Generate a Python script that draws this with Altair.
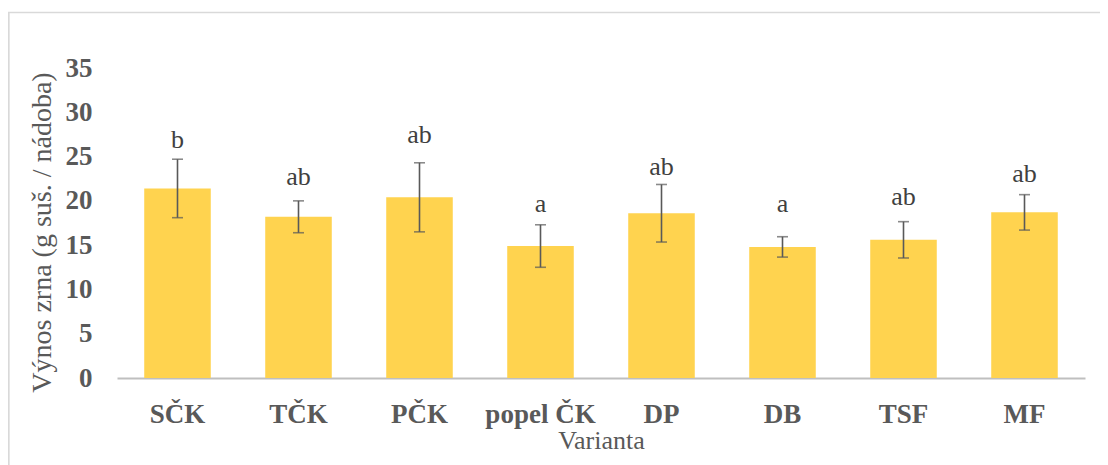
import altair as alt
import pandas as pd

categories = ["SČK", "TČK", "PČK", "popel ČK", "DP", "DB", "TSF", "MF"]
means = [21.4, 18.2, 20.4, 14.9, 18.6, 14.8, 15.6, 18.7]
errors = [3.3, 1.8, 3.9, 2.4, 3.25, 1.15, 2.05, 2.0]
letters = ["b", "ab", "ab", "a", "ab", "a", "ab", "ab"]
letter_pos = [26.0, 21.8, 26.5, 18.75, 22.9, 18.75, 19.5, 22.1]

df = pd.DataFrame({
    "Varianta": categories,
    "mean": means,
    "lower": [m - e for m, e in zip(means, errors)],
    "upper": [m + e for m, e in zip(means, errors)],
    "letter": letters,
    "lpos": letter_pos,
})

FONT = "Liberation Serif"
W, H = 968, 310

xenc = alt.X(
    "Varianta:N",
    sort=categories,
    scale=alt.Scale(paddingInner=0.45, paddingOuter=0.225),
    axis=alt.Axis(
        title="Varianta",
        labelAngle=0,
        labelFont=FONT,
        labelFontSize=27,
        labelFontWeight="bold",
        labelColor="#595959",
        labelPadding=23,
        ticks=False,
        tickSize=0,
        domainColor="#BFBFBF",
        domainWidth=2,
        titleFont=FONT,
        titleFontSize=26,
        titleFontWeight="normal",
        titleColor="#595959",
        titleBaseline="alphabetic",
        titleY=70,
    ),
)

yscale = alt.Scale(domain=[0, 35], nice=False)

bars = alt.Chart(df).mark_bar(color="#FFD34F").encode(
    x=xenc,
    y=alt.Y(
        "mean:Q",
        scale=yscale,
        axis=alt.Axis(
            title="Výnos zrna (g suš. / nádoba)",
            values=[0, 5, 10, 15, 20, 25, 30, 35],
            grid=False,
            domain=False,
            ticks=False,
            tickSize=0,
            labelFont=FONT,
            labelFontSize=27,
            labelFontWeight="bold",
            labelColor="#595959",
            labelPadding=25,
            titleFont=FONT,
            titleFontSize=28,
            titleFontWeight="normal",
            titleColor="#595959",
            titleAngle=270,
            titleAlign="center",
            titleBaseline="alphabetic",
            titleX=-67,
            titleY=H / 2 + 9,
        ),
    ),
)

rules = alt.Chart(df).mark_rule(color="#595959", strokeWidth=1.6).encode(
    x=alt.X("Varianta:N", sort=categories),
    y=alt.Y("lower:Q", scale=yscale),
    y2="upper:Q",
)

caps_top = alt.Chart(df).mark_tick(color="#595959", size=11, thickness=1.6).encode(
    x=alt.X("Varianta:N", sort=categories),
    y=alt.Y("upper:Q", scale=yscale),
)
caps_bot = alt.Chart(df).mark_tick(color="#595959", size=11, thickness=1.6).encode(
    x=alt.X("Varianta:N", sort=categories),
    y=alt.Y("lower:Q", scale=yscale),
)

texts = alt.Chart(df).mark_text(
    font=FONT, fontSize=26, color="#404040", baseline="alphabetic", align="center"
).encode(
    x=alt.X("Varianta:N", sort=categories),
    y=alt.Y("lpos:Q", scale=yscale),
    text="letter:N",
)

border = alt.Chart(pd.DataFrame({"k": [0]})).mark_rect(
    filled=False, stroke="#D9D9D9", strokeWidth=1.7
).encode(
    x=alt.value(-108.2),
    x2=alt.value(W + 60),
    y=alt.value(-55.5),
    y2=alt.value(H + 120),
)

chart = alt.layer(border, bars, rules, caps_top, caps_bot, texts).properties(
    width=W,
    height=H,
    padding={"left": 109, "top": 60, "right": 15, "bottom": 87},
    autosize=alt.AutoSizeParams(type="none"),
).configure_view(stroke=None)

chart.save("out.html", embed_options={"renderer": "svg", "actions": False})
